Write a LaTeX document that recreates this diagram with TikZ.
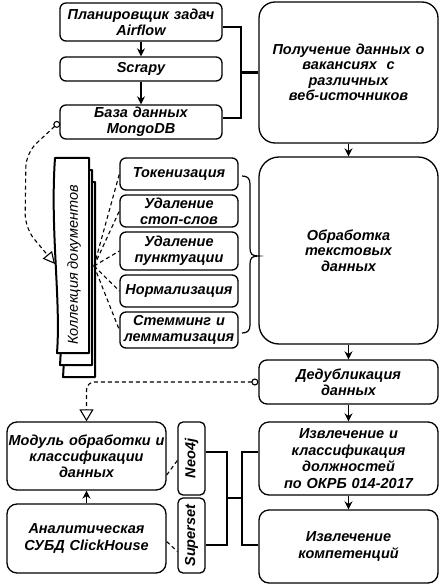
\documentclass[tikz,border=0pt]{standalone}
\usepackage{fontspec}
\setmainfont{Liberation Sans}
\usetikzlibrary{arrows.meta,calc}
\begin{document}
\begin{tikzpicture}[x=1pt,y=-1pt,
  box/.style={draw, line width=1.3pt, rounded corners=6pt, inner sep=0pt, align=center,
    font=\fontsize{14.5}{16}\selectfont\bfseries\itshape},
  arr/.style={line width=1.3pt, -{Stealth[length=8pt,width=8pt]}},
  dline/.style={line width=1.1pt, dash pattern=on 4pt off 3pt},
  brk/.style={line width=2.4pt},
  page/.style={draw, line width=2pt, fill=white, line join=round}]
\useasboundingbox (0,0) rectangle (443,588);

% top-left boxes
\node[box, minimum width=162pt, minimum height=38pt, text width=162pt] (air) at (141,22) {Планировщик задач\\Airflow};
\node[box, minimum width=162pt, minimum height=24pt, text width=162pt] (scrapy) at (141,69) {Scrapy};
\node[box, minimum width=162pt, minimum height=34pt, text width=162pt] (mongo) at (141,122) {База данных\\MongoDB};

% right column
\node[box, rounded corners=16pt, minimum width=179pt, minimum height=141pt, text width=179pt,
  font=\fontsize{14.5}{15.5}\selectfont\bfseries\itshape] (get) at (348.5,72.5) {Получение данных о\\вакансиях\ \ с\\различных\\веб-источников};
\node[box, rounded corners=20pt, minimum width=179pt, minimum height=187pt, text width=179pt,
  font=\fontsize{14.5}{15.5}\selectfont\bfseries\itshape] (proc) at (348.5,250.5) {Обработка\\текстовых\\данных};
\node[box, rounded corners=8pt, minimum width=179pt, minimum height=44pt, text width=179pt] (dedup) at (348.5,382) {Дедубликация\\данных};
\node[box, rounded corners=10pt, minimum width=179pt, minimum height=73pt, text width=179pt,
  font=\fontsize{14.5}{16.8}\selectfont\bfseries\itshape] (ext) at (348.5,458.5) {Извлечение и\\классификация\\должностей\\по ОКРБ 014-2017};
\node[box, rounded corners=10pt, minimum width=179pt, minimum height=73pt, text width=179pt,
  font=\fontsize{14.5}{16.8}\selectfont\bfseries\itshape] (comp) at (348.5,546.5) {Извлечение\\компетенций};

% processing steps
\node[box, minimum width=118pt, minimum height=32pt, text width=118pt] (tok) at (179,174) {Токенизация};
\node[box, minimum width=118pt, minimum height=32pt, text width=118pt] (stop) at (179,211) {Удаление\\стоп-слов};
\node[box, minimum width=118pt, minimum height=38pt, text width=118pt] (punct) at (179,251) {Удаление\\пунктуации};
\node[box, minimum width=118pt, minimum height=32pt, text width=118pt] (norm) at (179,291) {Нормализация};
\node[box, minimum width=118pt, minimum height=36pt, text width=118pt] (stem) at (179,330) {Стемминг и\\лемматизация};

% bottom-left
\node[box, rounded corners=10pt, minimum width=159pt, minimum height=68pt, text width=159pt] (modul) at (86.5,456) {Модуль обработки и\\классификации\\данных};
\node[box, rounded corners=10pt, minimum width=159pt, minimum height=69pt, text width=159pt,
  font=\fontsize{14.5}{16.6}\selectfont\bfseries\itshape] (click) at (86.5,538.5) {Аналитическая\\СУБД ClickHouse};
\node[box, rounded corners=5pt, minimum width=27pt, minimum height=73pt, text width=27pt] (neo) at (191.5,458.5) {\rotatebox{90}{Neo4j}};
\node[box, rounded corners=5pt, minimum width=27pt, minimum height=75pt, text width=27pt] (sup) at (191.5,535.5) {\rotatebox{90}{Superset}};

% document stack
\foreach \dx/\dy in {6/24,3/12,0/0}{
  \path[page] (55+\dx,158+\dy) -- (89+\dx,158+\dy) -- (89+\dx,353+\dy) -- (57+\dx,353+\dy)
    .. controls (61+\dx,300+\dy) and (50+\dx,230+\dy) .. (55+\dx,158+\dy) -- cycle;
}
\node[inner sep=0pt, font=\fontsize{14.5}{16}\selectfont\itshape] (docs) at (74,265) {\rotatebox{90}{Коллекция документов}};
\coordinate (docL) at (55,264);
\coordinate (docR) at (94,266);

% arrows
\draw[arr] (air) -- (scrapy);
\draw[arr] (scrapy) -- (mongo);
\draw[arr] (get) -- (proc);
\draw[arr] (proc) -- (dedup);
\draw[arr] (dedup) -- (ext);
\draw[arr] (ext) -- (comp);
\draw[arr] (click) -- (modul);

% top bracket
\coordinate (tj) at (241,72.5);
\draw[brk] ([yshift=-5pt]air.east) -| (tj) |- ([yshift=4pt]mongo.east);
\draw[brk] (tj) -- (get.west);

% bottom brackets
\coordinate (lj) at (227,498);
\coordinate (rj) at (242,498);
\draw[brk] ([yshift=6.5pt]neo.east) -| (lj) |- ([yshift=-9.5pt]sup.east);
\draw[brk] ([yshift=6.5pt]ext.west) -| (rj) |- ([yshift=1.5pt]comp.west);
\draw[brk] (lj) -- (rj);

% curly brace to processing
\coordinate (bt) at (242,176);
\coordinate (bb) at (242,333);
\draw[line width=1.2pt] (bt) .. controls (247,176) and (250,178) .. (250,184) -- (250,248)
  .. controls (250,254) and (252,256) .. ([yshift=-5.5pt]proc.west)
  .. controls (252,256) and (250,258) .. (250,264) -- (250,325)
  .. controls (250,331) and (247,333) .. (bb);

% dashed connectors
\draw[dline, rounded corners=14pt, {Circle[open,length=7pt,width=7pt]}-{Triangle[open,length=12pt,width=12pt]}]
  (mongo.west) -- (26,153) -- (25,228) -- (docL);
\foreach \t in {tok,stop,punct,norm,stem}{
  \draw[dline] (docR) -- (\t.west);
}
\draw[dline, rounded corners=8pt, {Circle[open,length=7pt,width=7pt]}-{Triangle[open,length=12pt,width=14pt]}]
  (dedup.west) -| (modul.north);
\draw[dline] ($(modul.east)+(0,19)$) -- ($(neo.west)+(0,2)$);
\draw[dline] ($(click.east)+(0,3)$) -- ($(sup.west)+(0,16)$);
\end{tikzpicture}
\end{document}
